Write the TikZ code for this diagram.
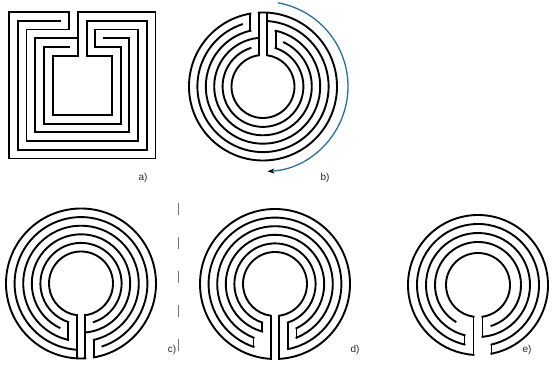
\documentclass[tikz,border=0pt]{standalone}
\usepackage{fontspec}
\setmainfont{Liberation Sans}
\usetikzlibrary{arrows.meta}
\tikzset{
  wall/.style={line width=1.9pt, line cap=rect, line join=miter, black},
  lbl/.style={font=\fontsize{10}{12}\selectfont, text=black!85, inner sep=0pt},
  sep/.style={line width=0.9pt, black!55, dash pattern=on 12pt off 22pt},
  turn/.style={line width=1.3pt, color={rgb,255:red,40;green,112;blue,150}}
}
% circular labyrinth helpers
\newcommand\setlab[7]{\def\LX{#1}\def\LY{#2}\def\LR{#3}\def\LS{#4}\def\LRin{#5}\def\LSg{#6}\def\LN{#7}}
\newcommand\rad[1]{\pgfmathsetmacro\Rad{(#1==\LN)?\LRin:(\LR-\LS*#1)}}
\newcommand\rg[3]{%
  \rad{#1}\let\Ra\Rad
  \pgfmathsetmacro\dL{(#2)*\LS/2}\pgfmathsetmacro\dR{(#3)*\LS/2}%
  \pgfmathsetmacro\ta{(\LSg>0)?(90-asin(\dL/\Ra)):(-90+asin(\dR/\Ra))}%
  \pgfmathsetmacro\tb{(\LSg>0)?(450-asin(\dR/\Ra)):(270+asin(\dL/\Ra))}%
  \draw[wall] ([shift={(\LX,\LY)}]\ta:\Ra) arc[start angle=\ta, end angle=\tb, radius=\Ra];}
\newcommand\cn[3]{%
  \rad{#2}\let\Ri\Rad \rad{#3}\let\Rj\Rad
  \pgfmathsetmacro\dd{(#1)*\LS/2}%
  \draw[wall] ({\LX+\dd},{\LY+\LSg*sqrt(\Ri*\Ri-\dd*\dd)}) -- ({\LX+\dd},{\LY+\LSg*sqrt(\Rj*\Rj-\dd*\dd)});}
% square labyrinth helpers
\def\SQs{8.73}\def\SQc{82.25}
\newcommand\sq[3]{%
  \pgfmathsetmacro\dL{(#2)*\SQs/2}\pgfmathsetmacro\dR{(#3)*\SQs/2}%
  \draw[wall] ({\SQc+\dL},{365-\SQs*#1}) -| ({9+\SQs*#1},{218.5+\SQs*#1})
     -| ({155.5-\SQs*#1},{365-\SQs*#1}) -- ({\SQc+\dR},{365-\SQs*#1});}
\newcommand\sqc[3]{%
  \pgfmathsetmacro\dd{(#1)*\SQs/2}%
  \draw[wall] ({\SQc+\dd},{365-\SQs*#2}) -- ({\SQc+\dd},{365-\SQs*#3});}
\begin{document}
\begin{tikzpicture}[x=1pt,y=1pt]
\useasboundingbox (0,0) rectangle (552,377);
% ---- a) square labyrinth
\sq{0}{-3}{-1}\sq{1}{-5}{1}\sq{2}{-3}{3}\sq{3}{-1}{5}\sq{4}{-3}{3}\sq{5}{-1}{1}
\sqc{-3}{0}{2}\sqc{-1}{0}{5}\sqc{1}{1}{5}\sqc{3}{2}{4}
\node[lbl] (la) at (143,199) {a)};
% ---- b) circular, opening at top
\setlab{263}{290.5}{74}{8.4}{31.5}{1}{5}
\rg{0}{-3}{-1}\rg{1}{-5}{1}\rg{2}{-3}{3}\rg{3}{-1}{5}\rg{4}{-3}{3}\rg{5}{-1}{1}
\cn{-3}{0}{2}\cn{-1}{0}{5}\cn{1}{0}{5}\cn{3}{2}{4}
\draw[turn, -{Stealth[length=7pt,width=5pt,color=black]}] ([shift={(263,290.5)}]80:85) arc[start angle=80, end angle=-87, radius=85];
\node[lbl] (lb) at (325,199) {b)};
% ---- separator
\coordinate (s1) at (178,174);
\coordinate (s2) at (178,19);
\draw[sep] (s1) -- (s2);
% ---- c)
\setlab{81}{93.5}{75}{8.6}{32}{-1}{5}
\rg{0}{1}{3}\rg{1}{-1}{5}\rg{2}{-3}{3}\rg{3}{-5}{1}\rg{4}{-3}{3}\rg{5}{-1}{1}
\cn{3}{0}{2}\cn{1}{0}{5}\cn{-1}{0}{5}\cn{-3}{2}{4}
\node[lbl] (lc) at (172,27) {c)};
% ---- d)
\setlab{275}{93}{75}{8.6}{32}{-1}{5}
\rg{0}{-1}{1}\rg{1}{-5}{3}\rg{2}{-5}{5}\rg{3}{-3}{5}\rg{4}{-3}{3}\rg{5}{-1}{1}
\cn{-1}{0}{5}\cn{1}{0}{5}\cn{-5}{1}{2}\cn{-3}{3}{4}\cn{3}{1}{4}\cn{5}{2}{3}
\node[lbl] (ld) at (355,27) {d)};
% ---- e)
\setlab{478}{92}{70}{9}{32}{-1}{4}
\rg{0}{-1}{3}\rg{1}{-3}{3}\rg{2}{-3}{1}\rg{3}{-5}{3}\rg{4}{-1}{1}
\cn{-1}{0}{4}\cn{1}{2}{4}\cn{-3}{1}{2}\cn{3}{0}{1}
\node[lbl] (le) at (527,27) {e)};
\end{tikzpicture}
\end{document}
